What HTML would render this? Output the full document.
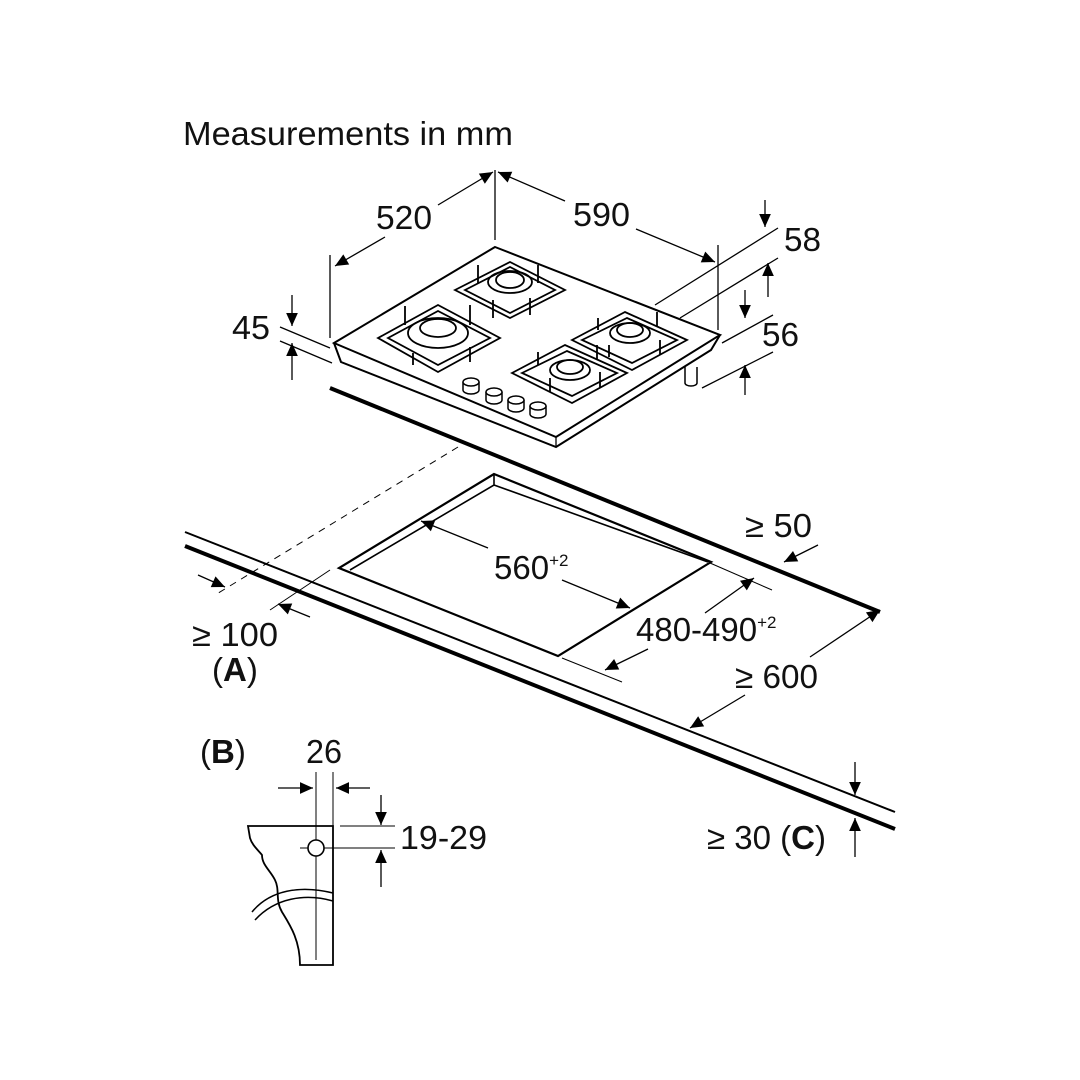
<!DOCTYPE html>
<html><head><style>body{margin:0;background:#fff}svg{display:block}text{font-family:"Liberation Sans",sans-serif;fill:#111}</style></head>
<body>
<svg width="1080" height="1080" viewBox="0 0 1080 1080" xmlns="http://www.w3.org/2000/svg">
<defs>
<marker id="a" viewBox="0 0 10 10" refX="10" refY="5" markerWidth="15" markerHeight="13" orient="auto-start-reverse" markerUnits="userSpaceOnUse"><path d="M0,0.5 L10,5 L0,9.5 z" fill="#000"/></marker>
</defs>
<g stroke="#000" fill="none" stroke-width="1.3">
<g stroke="none" font-size="33">
<text x="183" y="145" textLength="330" lengthAdjust="spacingAndGlyphs">Measurements in mm</text>
<text x="376" y="229" textLength="56" lengthAdjust="spacingAndGlyphs">520</text>
<text x="573" y="226" textLength="57" lengthAdjust="spacingAndGlyphs">590</text>
<text x="784" y="251" textLength="37" lengthAdjust="spacingAndGlyphs">58</text>
<text x="762" y="346" textLength="37" lengthAdjust="spacingAndGlyphs">56</text>
<text x="232" y="339" textLength="38" lengthAdjust="spacingAndGlyphs">45</text>
<text x="494" y="579">560<tspan font-size="17" dy="-13">+2</tspan></text>
<text x="636" y="641">480-490<tspan font-size="17" dy="-13">+2</tspan></text>
<text x="745" y="537" textLength="67" lengthAdjust="spacingAndGlyphs">≥ 50</text>
<text x="735" y="688" textLength="83" lengthAdjust="spacingAndGlyphs">≥ 600</text>
<text x="192" y="646" textLength="86" lengthAdjust="spacingAndGlyphs">≥ 100</text>
<text x="212" y="681">(<tspan font-weight="bold">A</tspan>)</text>
<text x="707" y="849">≥ 30 (<tspan font-weight="bold">C</tspan>)</text>
<text x="200" y="763">(<tspan font-weight="bold">B</tspan>)</text>
<text x="306" y="763" textLength="36" lengthAdjust="spacingAndGlyphs">26</text>
<text x="400" y="849" textLength="87" lengthAdjust="spacingAndGlyphs">19-29</text>
</g>
<!-- hob -->
<path d="M495,247 L720,335 L556,437 L334,343 Z" stroke-width="2" fill="#fff"/>
<path d="M334,343 L341,362 L556,447 L711,350 L720,335" stroke-width="2"/>
<path d="M556,437 L556,447"/>
<!-- extension lines -->
<line x1="495" y1="170" x2="495" y2="240"/>
<line x1="330" y1="255" x2="330" y2="338"/>
<line x1="718" y1="245" x2="718" y2="330"/>
<line x1="335" y1="266" x2="385" y2="237" marker-start="url(#a)"/>
<line x1="438" y1="205" x2="493" y2="172" marker-end="url(#a)"/>
<line x1="498" y1="172" x2="565" y2="201" marker-start="url(#a)"/>
<line x1="636" y1="229" x2="715" y2="262" marker-end="url(#a)"/>
<!-- burners -->
<g stroke-width="1.8">
<path d="M455,290 L510,262 L565,290 L510,318 Z"/><path d="M465,290 L510,267 L555,290 L510,313 Z"/>
<ellipse cx="510" cy="282" rx="22" ry="11"/><ellipse cx="510" cy="280" rx="14" ry="8"/>
<path d="M478,265 L478,283 M538,265 L538,283 M493,300 L493,318 M530,298 L530,315"/>
<path d="M378,338 L438,305 L500,338 L438,372 Z"/><path d="M388,338 L438,311 L490,338 L438,365 Z"/>
<ellipse cx="438" cy="333" rx="30" ry="15"/><ellipse cx="438" cy="328" rx="18" ry="9"/>
<path d="M405,306 L405,325 M470,305 L470,325 M413,353 L413,365 M470,347 L470,362"/>
<path d="M572,340 L625,312 L687,340 L632,370 Z"/><path d="M582,340 L627,318 L677,340 L632,363 Z"/>
<ellipse cx="630" cy="333" rx="20" ry="10"/><ellipse cx="630" cy="330" rx="13" ry="7"/>
<path d="M598,318 L598,330 M657,312 L657,327 M609,345 L609,357 M660,340 L660,355"/>
<path d="M512,373 L565,345 L627,373 L572,403 Z"/><path d="M522,373 L567,351 L617,373 L572,396 Z"/>
<ellipse cx="570" cy="370" rx="20" ry="10"/><ellipse cx="570" cy="367" rx="13" ry="7"/>
<path d="M538,352 L538,365 M597,345 L597,360 M550,378 L550,392 M600,372 L600,388"/>
</g>
<g stroke-width="1.5" fill="#fff">
<path d="M463,382 v8 a8,4 0 0 0 16,0 v-8"/><ellipse cx="471" cy="382" rx="8" ry="4"/>
<path d="M486,392 v8 a8,4 0 0 0 16,0 v-8"/><ellipse cx="494" cy="392" rx="8" ry="4"/>
<path d="M508,400 v8 a8,4 0 0 0 16,0 v-8"/><ellipse cx="516" cy="400" rx="8" ry="4"/>
<path d="M530,406 v8 a8,4 0 0 0 16,0 v-8"/><ellipse cx="538" cy="406" rx="8" ry="4"/>
<path d="M685,367 v16 a6,3 0 0 0 12,0 v-16"/>
</g>
<!-- 58/56/45 -->
<line x1="655" y1="305" x2="778" y2="228"/>
<line x1="680" y1="318" x2="778" y2="258"/>
<line x1="765" y1="200" x2="765" y2="227" marker-end="url(#a)"/>
<line x1="768" y1="297" x2="768" y2="263" marker-end="url(#a)"/>
<line x1="722" y1="343" x2="773" y2="315"/>
<line x1="702" y1="388" x2="773" y2="352"/>
<line x1="745" y1="290" x2="745" y2="318" marker-end="url(#a)"/>
<line x1="745" y1="395" x2="745" y2="365" marker-end="url(#a)"/>
<line x1="280" y1="327" x2="330" y2="348"/>
<line x1="280" y1="341" x2="332" y2="363"/>
<line x1="292" y1="295" x2="292" y2="326" marker-end="url(#a)"/>
<line x1="292" y1="380" x2="292" y2="343" marker-end="url(#a)"/>
<!-- counter -->
<line x1="330" y1="388" x2="880" y2="612" stroke-width="4"/>
<line x1="185" y1="532" x2="895" y2="812" stroke-width="2"/>
<line x1="185" y1="546" x2="895" y2="829" stroke-width="4"/>
<line x1="458" y1="447" x2="215" y2="595" stroke-dasharray="7,6" stroke-width="1"/>
<line x1="330" y1="570" x2="270" y2="610" stroke-width="1"/>
<!-- cutout -->
<path d="M494,474 L711,562 L558,656 L339,568 Z" stroke-width="2.2"/>
<path d="M350,570 L494,485 L708,562 M494,474 L494,485" stroke-width="1.6"/>
<line x1="488" y1="548" x2="421" y2="521" marker-end="url(#a)"/>
<line x1="562" y1="580" x2="630" y2="608" marker-end="url(#a)"/>
<line x1="710" y1="563" x2="772" y2="590" stroke-width="1"/>
<line x1="562" y1="658" x2="622" y2="682" stroke-width="1"/>
<line x1="705" y1="613" x2="754" y2="578" marker-end="url(#a)"/>
<line x1="648" y1="649" x2="605" y2="670" marker-end="url(#a)"/>
<line x1="818" y1="545" x2="784" y2="562" marker-end="url(#a)"/>
<line x1="810" y1="657" x2="880" y2="610" marker-end="url(#a)"/>
<line x1="745" y1="695" x2="690" y2="728" marker-end="url(#a)"/>
<line x1="198" y1="575" x2="225" y2="587" marker-end="url(#a)"/>
<line x1="310" y1="617" x2="278" y2="604" marker-end="url(#a)"/>
<line x1="855" y1="762" x2="855" y2="795" marker-end="url(#a)"/>
<line x1="855" y1="857" x2="855" y2="818" marker-end="url(#a)"/>
<!-- B detail -->
<line x1="316" y1="772" x2="316" y2="960" stroke-width="1"/>
<line x1="333" y1="772" x2="333" y2="826" stroke-width="1"/>
<line x1="278" y1="788" x2="313" y2="788" marker-end="url(#a)"/>
<line x1="370" y1="788" x2="336" y2="788" marker-end="url(#a)"/>
<line x1="340" y1="826" x2="395" y2="826" stroke-width="1"/>
<line x1="300" y1="848" x2="395" y2="848" stroke-width="1"/>
<line x1="381" y1="795" x2="381" y2="825" marker-end="url(#a)"/>
<line x1="381" y1="887" x2="381" y2="850" marker-end="url(#a)"/>
<path d="M248,826 L333,826 L333,965 L300,965 C300,940 290,925 282,912 C275,900 280,890 275,880 C270,870 262,865 262,855 C258,850 252,845 250,838 Z" stroke-width="1.8"/>
<path d="M252,912 C270,890 300,885 333,893 M255,920 C275,898 305,893 333,901" stroke-width="1.5"/>
<circle cx="316" cy="848" r="8" stroke-width="1.6" fill="#fff"/>
</g>
</svg>
</body></html>
